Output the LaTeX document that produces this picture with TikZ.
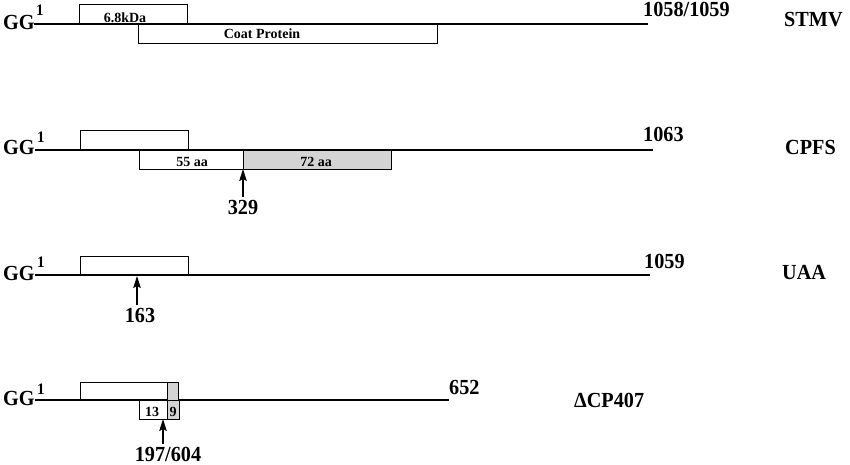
\documentclass[tikz,border=0pt]{standalone}
\usepackage{fontspec}
\setmainfont{Liberation Serif}
\newfontfamily\tallfont{Liberation Serif}[FakeStretch=0.94]
\usetikzlibrary{arrows.meta}
\begin{document}
\begin{tikzpicture}[x=1pt,y=-1pt,
 big/.style={font=\tallfont\fontsize{21.5}{26}\selectfont\bfseries, inner sep=0},
 small/.style={font=\fontsize{14}{16}\selectfont\bfseries, inner sep=0},
 one/.style={font=\tallfont\fontsize{16}{18}\selectfont\bfseries, inner sep=0},
 rna/.style={line width=1.3pt},
 orf/.style={draw, line width=1.2pt, inner sep=0, anchor=north west},
 shade/.style={orf, fill=black!17},
 arr/.style={-{Stealth[length=12pt,width=7.5pt,inset=2pt]}, line width=1.3pt, shorten <=3pt}]
\useasboundingbox (0,0) rectangle (850,465);
% Row 1: STMV
\coordinate (s1) at (34,24); \coordinate (e1) at (648,24);
\draw[rna] (s1) -- (e1);
\node[big, anchor=base west] (gg1) at (3,30) {GG};
\node[one, anchor=base west] (one1) at (36,16) {1};
\node[orf, minimum width=108, minimum height=20] (k1) at (79,4) {};
\node[orf, minimum width=299, minimum height=19] (cp1) at (138,24) {};
\node[small, anchor=base] (t68) at (125,23) {6.8kDa};
\node[small, anchor=base] (tcp) at (262,39) {Coat Protein};
\node[big, anchor=base west] (n1) at (643,17) {1058/1059};
\node[big, anchor=base west] (stmv) at (784,27) {STMV};
% Row 2: CPFS
\coordinate (s2) at (35,150); \coordinate (e2) at (653,150);
\draw[rna] (s2) -- (e2);
\node[big, anchor=base west] (gg2) at (3,155) {GG};
\node[one, anchor=base west] (one2) at (37,143) {1};
\node[orf, minimum width=108, minimum height=20] (k2) at (80,130) {};
\node[orf, minimum width=104, minimum height=19] (w2) at (139,150) {};
\node[shade, minimum width=148, minimum height=19] (g2) at (243,150) {};
\node[small, anchor=base] (t55) at (192,167) {55 aa};
\node[small, anchor=base] (t72) at (316,166) {72 aa};
\coordinate (tip2) at (243,169);
\node[big, anchor=base] (l329) at (243,214) {329};
\draw[arr] (l329.north) -- (tip2);
\node[big, anchor=base west] (n2) at (643,142) {1063};
\node[big, anchor=base west] (cpfs) at (785,155) {CPFS};
% Row 3: UAA
\coordinate (s3) at (35,275); \coordinate (e3) at (650,275);
\draw[rna] (s3) -- (e3);
\node[big, anchor=base west] (gg3) at (3,280) {GG};
\node[one, anchor=base west] (one3) at (37,267) {1};
\node[orf, minimum width=108, minimum height=19] (k3) at (80,256) {};
\coordinate (tip3) at (137,276);
\node[big, anchor=base] (l163) at (140,322) {163};
\draw[arr] (l163.north -| tip3) -- (tip3);
\node[big, anchor=base west] (n3) at (644,268) {1059};
\node[big, anchor=base west] (uaa) at (782,279) {UAA};
% Row 4: Delta CP407
\coordinate (s4) at (35,400); \coordinate (e4) at (449,400);
\draw[rna] (s4) -- (e4);
\node[big, anchor=base west] (gg4) at (3,405) {GG};
\node[one, anchor=base west] (one4) at (37,394) {1};
\node[orf, minimum width=87, minimum height=18] (k4) at (80,382) {};
\node[shade, minimum width=11, minimum height=18] (kg4) at (167,382) {};
\node[orf, minimum width=28, minimum height=19] (w4) at (139,400) {};
\node[shade, minimum width=12, minimum height=19] (g4) at (167,400) {};
\node[small, anchor=base] (t13) at (152,416) {13};
\node[small, anchor=base] (t9) at (173,416) {9};
\coordinate (tip4) at (163,419);
\node[big, anchor=base] (l197) at (168,461) {197/604};
\draw[arr] (l197.north -| tip4) -- (tip4);
\node[big, anchor=base west] (n4) at (449,394) {652};
\node[big, anchor=base west] (dcp) at (574,407) {ΔCP407};
\end{tikzpicture}
\end{document}
